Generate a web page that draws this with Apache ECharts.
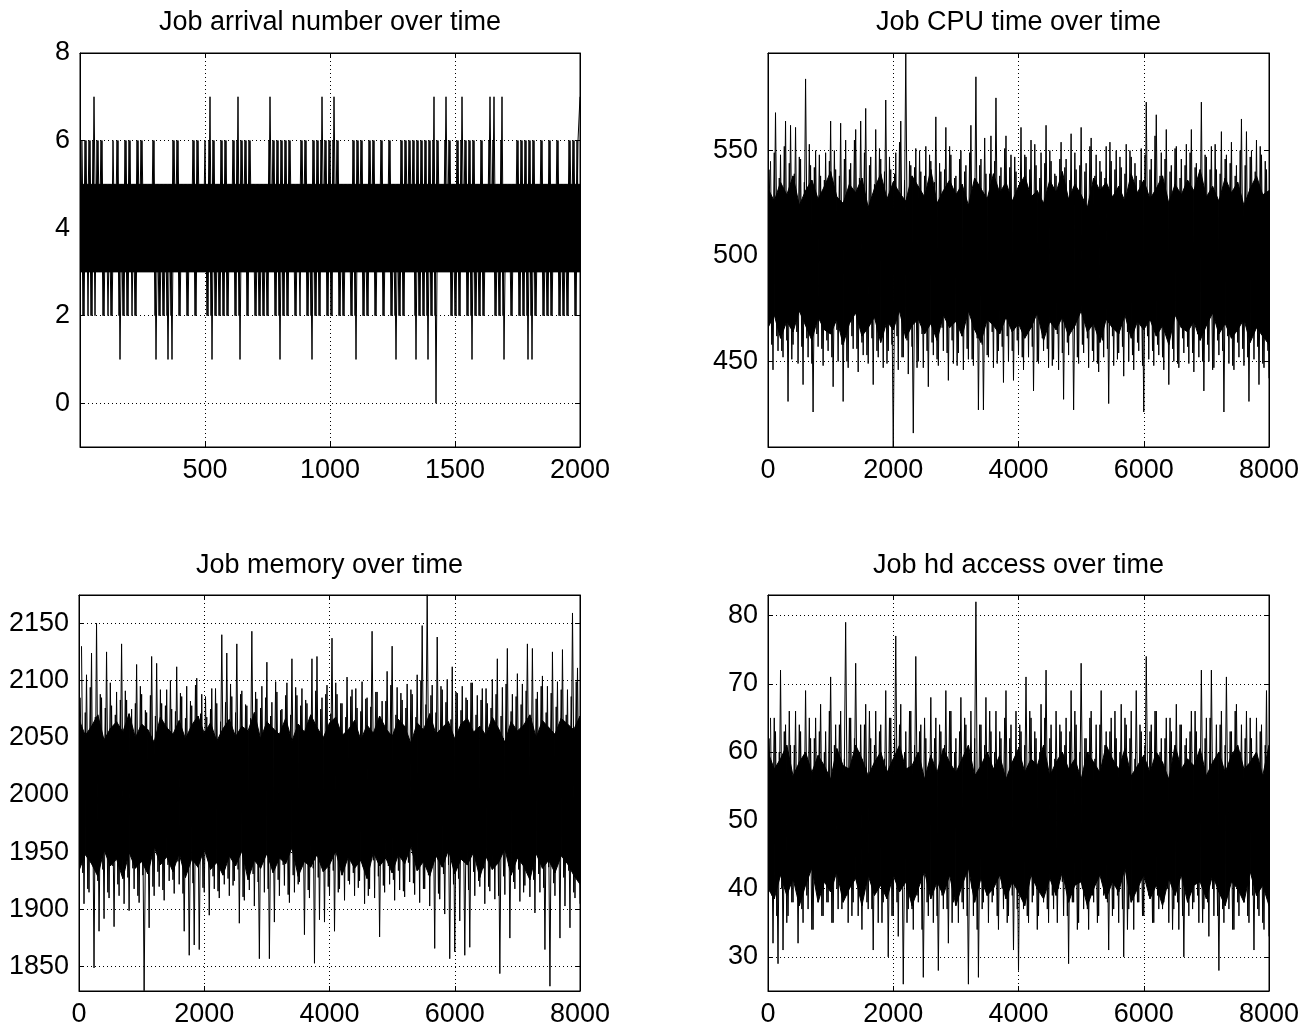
<!DOCTYPE html>
<html><head><meta charset="utf-8">
<script src="https://cdn.jsdelivr.net/npm/echarts@6/dist/echarts.min.js"></script>
<style>html,body{margin:0;padding:0;background:#fff}#c{width:1313px;height:1030px}</style>
</head><body><div id="c"></div><script>
const titles = ['Job arrival number over time', 'Job CPU time over time', 'Job memory over time', 'Job hd access over time'];

// tick labels
const arrivalXTicks = [500, 1000, 1500, 2000];
const arrivalYTicks = [0, 2, 4, 6, 8];
const timeXTicks = [0, 2000, 4000, 6000, 8000];
const cpuYTicks = [450, 500, 550];
const memoryYTicks = [1850, 1900, 1950, 2000, 2050, 2100, 2150];
const hdYTicks = [30, 40, 50, 60, 70, 80];

// job arrival number, read every 8 time steps (x = 8, 16, ... 2000)
const arrivalValues = [
6,2,6,2,6,2,7,3,6,3, 6,2,5,2,5,2,5,3,6,1, 5,2,6,2,6,2,5,2,6,3, 6,3,5,3,5,3,6,1,5,2,
5,2,5,1,5,1,6,3,6,2, 5,3,5,2,5,3,6,2,6,3, 5,3,5,2,7,1,6,2,5,2, 6,2,6,2,5,3,6,2,7,1,
6,3,6,2,6,3,5,2,5,2, 5,2,5,2,7,3,6,2,6,1, 6,2,6,2,6,3,5,2,5,2, 6,3,6,2,5,1,6,2,6,2,
7,3,6,2,6,2,7,3,6,2, 5,2,5,3,5,2,6,1,6,3, 6,2,5,2,6,3,6,2,5,3, 6,2,5,3,6,2,5,1,5,2,
6,2,6,3,6,3,6,1,6,2, 6,2,6,1,6,2,7,0,6,3, 5,3,7,3,6,2,5,2,6,2, 7,3,6,2,6,1,6,2,5,2,
6,2,5,3,7,3,7,2,5,2, 7,1,5,3,5,2,5,3,6,2, 6,2,6,1,6,1,6,2,5,3, 6,2,5,2,6,2,5,3,6,2,
5,2,5,2,6,3,6,2,6,7];
// in-between readings (x = 4, 12, ... 1996)
const arrivalValues2 = [
6,2,6,3,6,2,6,2,6,3, 6,2,5,3,5,2,6,3,6,2, 5,2,6,2,6,3,5,2,6,3, 6,3,5,3,5,3,6,2,5,2,
5,2,5,2,5,2,6,3,6,2, 5,3,5,2,5,3,6,2,6,3, 5,3,6,2,6,2,6,2,5,2, 6,2,6,2,5,3,6,2,6,2,
6,3,6,2,6,3,5,2,5,2, 5,2,5,2,6,3,6,2,6,2, 6,2,6,2,6,3,5,2,5,3, 6,3,6,2,5,2,6,2,6,2,
6,3,6,2,6,2,6,3,6,2, 5,2,5,3,5,2,6,2,6,3, 6,2,5,2,6,3,6,2,5,3, 6,2,5,3,6,2,5,2,5,2,
6,2,6,3,6,3,6,2,6,2, 6,2,6,2,6,2,6,2,6,3, 5,3,6,3,6,2,5,2,6,2, 6,3,6,2,6,2,6,2,5,2,
6,2,5,3,6,3,6,2,5,2, 6,2,5,3,5,2,5,3,6,2, 6,2,6,2,6,2,6,2,5,3, 6,2,5,2,6,2,5,3,6,2,
5,2,5,2,6,3,6,2,6,3];
const arrivalCoreX = [1, 2000];
const arrivalCoreTop = [5, 5];
const arrivalCoreBottom = [3, 3];

// CPU time, read every 40 time steps (x = 40 ... 8000)
const cpuValues = [
545,446,568,455,548,452,564,431,562,458, 561,449,546,439,584,452,543,426,550,457,
538,448,549,455,564,438,541,450,563,431, 555,447,544,456,560,445,564,453,570,449,
547,439,560,452,546,447,574,455,541,409, 549,446,564,452,596,444,543,416,551,450,
540,447,552,438,545,453,566,448,540,455, 561,441,548,449,538,454,550,446,543,451,
562,448,585,427,546,427,539,452,557,447, 575,455,542,440,557,450,548,441,540,453,
561,446,547,452,555,436,543,449,549,455, 562,447,545,451,538,446,554,432,546,453,
558,427,541,449,561,454,544,447,556,450, 548,445,540,452,552,430,545,448,550,454,
542,443,553,450,547,446,538,455,551,426, 573,451,546,448,567,453,549,446,560,439,
543,450,552,447,546,454,553,449,560,445, 544,452,573,436,547,450,552,447,541,453,
559,426,548,449,554,446,543,452,565,448, 559,431,550,451,555,439,548,447,541,442];
// in-between readings (x = 20, 60, ... 7980)
const cpuValues2 = [
541,458,549,462,537,455,552,460,544,451, 539,464,547,457,535,461,553,449,542,463,
548,456,536,460,545,452,550,465,538,458, 546,450,541,462,555,456,537,459,549,453,
543,461,534,455,551,464,540,449,547,458, 539,462,554,452,536,460,545,457,542,447,
550,463,538,455,548,459,535,451,544,466, 541,454,552,460,537,448,546,462,540,456,
549,451,536,461,543,458,556,453,539,464, 545,449,538,457,551,462,542,455,547,460,
535,452,548,463,541,457,553,450,537,461, 544,456,550,448,539,463,546,454,542,459,
536,465,549,452,543,458,540,461,552,455, 538,449,545,460,537,456,554,462,541,451,
547,457,539,464,550,453,544,459,536,448, 548,462,541,455,557,458,538,452,546,463,
540,456,551,449,537,461,543,457,549,454, 542,463,535,450,548,458,541,446,553,460,
539,455,546,462,544,448,538,459,550,456, 543,452,547,465,540,457,552,449,545,455];
// edges of the solid dense band, read every 100 time steps (x = 0 ... 8000)
const cpuCoreTop = [
532,526,535,529,538,524,531,536,527,533, 540,528,525,534,530,537,523,532,539,527,
535,530,526,538,533,528,541,525,531,536, 529,534,524,537,532,527,539,530,535,526,
533,538,528,531,525,536,530,540,527,534, 529,523,537,531,535,528,533,526,539,530,
536,527,532,538,525,534,529,536,531,541, 528,533,526,537,530,535,524,532,538,529, 531];
const cpuCoreBottom = [
466,472,461,469,464,474,467,460,471,465, 463,470,458,468,473,462,466,471,459,469,
465,474,461,467,470,463,468,460,472,466, 469,462,474,465,459,470,467,463,471,464,
468,461,466,473,460,469,465,471,462,467, 474,464,468,459,470,466,463,472,461,469,
465,470,462,467,458,472,466,464,469,460, 467,473,463,468,461,465,470,459,466,462, 458];

// memory
const memoryValues = [
2130,1905,2105,1915,2124,1849,2150,1881,2085,1892, 2125,1910,2078,1885,2090,1912,2132,1905,2083,1899,
2075,1918,2114,1906,2088,1829,2072,1884,2121,1912, 2115,1920,2080,1908,2092,1925,2075,1914,2112,1922,
2086,1881,2095,1860,2078,1869,2102,1865,2088,1915, 2068,1895,2093,1918,2080,1910,2140,1922,2124,1912,
2086,1925,2132,1888,2091,1908,2078,1917,2143,1903, 2084,1857,2095,1915,2116,1857,2081,1889,2090,1912,
2075,1921,2098,1906,2119,1915,2087,1924,2093,1878, 2080,1910,2119,1853,2121,1891,2085,1889,2096,1912,
2137,1881,2088,1918,2080,1908,2103,1922,2092,1912, 2076,1925,2099,1905,2085,1918,2143,1910,2090,1876,
2082,1915,2108,1922,2130,1908,2094,1917,2083,1911, 2097,1924,2088,1913,2105,1906,2148,1918,2175,1903,
2096,1866,2138,1909,2092,1896,2101,1857,2112,1863, 2089,1890,2095,1860,2083,1867,2098,1912,2087,1920,
2093,1905,2080,1916,2101,1909,2119,1844,2094,1913, 2128,1875,2088,1918,2106,1907,2097,1921,2132,1911,
2128,1897,2090,1915,2104,1865,2095,1833,2125,1912, 2099,1875,2127,1903,2092,1884,2159,1910,2111,1905];
const memoryValues2 = [
2085,1932,2072,1918,2094,1940,2068,1925,2088,1935, 2076,1915,2098,1938,2070,1922,2083,1944,2091,1928,
2066,1936,2080,1912,2095,1930,2074,1941,2087,1920, 2069,1933,2092,1917,2078,1939,2100,1926,2073,1942,
2089,1914,2067,1934,2082,1923,2096,1937,2071,1919, 2086,1943,2075,1929,2093,1916,2064,1938,2081,1927,
2097,1921,2072,1935,2088,1911,2079,1940,2067,1931, 2090,1924,2076,1945,2085,1918,2069,1933,2099,1926,
2074,1939,2087,1913,2070,1930,2094,1922,2078,1941, 2083,1917,2066,1936,2091,1928,2075,1944,2088,1920,
2071,1934,2098,1915,2080,1940,2068,1925,2086,1932, 2093,1919,2073,1937,2084,1912,2077,1943,2090,1929,
2065,1921,2082,1938,2096,1926,2070,1934,2089,1916, 2076,1941,2092,1923,2068,1935,2100,1918,2079,1930,
2087,1944,2072,1914,2095,1931,2081,1939,2066,1922, 2090,1927,2074,1942,2085,1917,2098,1933,2070,1925,
2083,1936,2093,1920,2076,1943,2088,1912,2069,1929, 2097,1938,2073,1924,2086,1935,2079,1915,2091,1940,
2067,1926,2084,1931,2095,1919,2072,1937,2089,1923, 2077,1942,2092,1928,2070,1934,2086,1915,2099,1930];
const memoryCoreTop = [
2066,2052,2060,2070,2048,2058,2064,2055,2071,2050, 2062,2057,2046,2068,2059,2053,2065,2049,2061,2069,
2054,2063,2047,2058,2066,2051,2060,2056,2072,2049, 2064,2058,2053,2067,2047,2062,2055,2070,2059,2050,
2063,2068,2052,2057,2065,2048,2061,2054,2069,2058, 2051,2066,2060,2045,2063,2057,2071,2053,2059,2064,
2049,2062,2067,2055,2060,2052,2068,2058,2046,2064, 2056,2061,2070,2050,2065,2059,2053,2067,2062,2057, 2069];
const memoryCoreBottom = [
1934,1948,1940,1929,1952,1938,1944,1927,1950,1936, 1942,1931,1955,1939,1946,1933,1949,1928,1944,1937,
1953,1935,1941,1930,1947,1938,1951,1926,1943,1936, 1949,1932,1945,1940,1954,1929,1942,1937,1948,1933,
1939,1951,1930,1946,1936,1943,1927,1950,1938,1945, 1932,1948,1940,1955,1934,1942,1929,1947,1937,1952,
1931,1944,1939,1950,1928,1946,1935,1941,1953,1930, 1945,1938,1926,1949,1936,1943,1932,1947,1940,1930, 1922];

// hd access
const hdValues = [
65,32,63,29,72,31,64,36,61,38, 66,32,63,35,69,37,62,34,65,39, 67,36,63,38,71,35,64,37,66,39,
79,35,65,38,73,36,64,39,67,37, 62,31,66,35,64,38,69,30,65,36, 77,33,67,26,63,37,66,34,74,38,
64,27,62,36,68,35,65,28,63,37, 69,32,66,38,62,35,68,37,64,26, 66,36,82,27,64,38,68,35,63,39,
66,34,62,37,69,36,64,31,66,28, 63,37,71,35,65,39,62,36,67,38, 72,35,64,37,66,40,63,36,65,29,
69,38,64,35,73,37,62,34,66,38, 64,36,69,39,63,31,65,37,62,35, 67,30,64,37,66,34,69,38,63,36,
74,39,64,35,66,37,62,38,65,35, 63,37,67,34,64,30,62,36,66,38, 63,35,72,37,65,33,72,36,64,28,
66,35,71,37,63,34,67,36,64,38, 66,35,62,31,65,36,64,34,69,33];
const hdValues2 = [
62,39,65,36,60,40,63,35,66,38, 61,41,64,37,59,39,65,34,62,40, 63,36,60,38,66,35,61,40,64,37,
59,39,65,36,62,41,60,34,64,38, 66,37,61,40,63,35,59,39,65,36, 62,38,64,41,60,35,66,37,61,39,
63,34,65,38,59,40,62,36,64,39, 61,37,66,35,60,41,63,38,65,36, 59,40,62,34,64,37,61,39,66,38,
60,36,63,40,65,35,62,39,59,37, 64,41,61,36,66,38,63,34,60,40, 65,37,62,39,59,35,64,41,61,36,
63,38,66,34,60,40,62,37,65,39, 59,35,64,41,61,38,63,36,66,39, 60,37,65,34,62,40,59,38,64,36,
61,41,63,35,66,39,60,37,62,40, 65,34,59,38,64,36,61,41,63,37, 66,39,60,35,62,38,65,40,59,36,
64,37,61,39,63,34,66,38,60,41, 62,36,65,39,59,37,63,35,61,40];
const hdCoreTop = [
60,57.5,59,61,56.5,58.5,60,57,59.5,58, 56,60.5,58,57.5,61,59,56.5,58.5,60,57,
59,61,57.5,58,60,56,59.5,57,60.5,58.5, 57,59,61,56.5,58,60,57.5,59.5,56,58.5,
60.5,57,59,58,61,56.5,58.5,60,57.5,59, 56,60,58.5,57,61,59,57.5,60.5,56.5,58,
59.5,57,60,58.5,56,61,57.5,59,58,60.5, 56.5,58.5,60,57,59.5,61,57.5,58.5,60,56.5, 61];
const hdCoreBottom = [
40,38.5,42,39,41.5,37.5,40.5,43,38,41, 39.5,42.5,38,40,41.5,37.5,42,39,40.5,38.5,
42,39.5,41,37.5,40,42.5,38.5,41,39,42, 37.5,40.5,43,38,41.5,39,40,42,38.5,41,
39.5,37.5,42,40,38.5,41.5,39,42.5,38,40.5, 41,37.5,40,42,38.5,41,39.5,43,38,40,
42,38.5,40.5,37.5,41.5,39,42,38,40.5,41, 38.5,42,39.5,37.5,41,40,38,42.5,39,40.5, 37.5];

const coreStep = 100;
const coreX = cpuCoreTop.map((v, i) => i * coreStep);

const FONT = "'Liberation Sans', Arial, Helvetica, sans-serif";

const panels = [
  {title: titles[0], grid: {left: 80, top: 53, width: 500, height: 394}, titleY: 23,
   x: {min: 0, max: 2000, step: 500, ticks: arrivalXTicks}, y: {min: -1, max: 8, step: 2, ticks: arrivalYTicks},
   values: arrivalValues, values2: arrivalValues2, sampleStep: 8,
   coreX: arrivalCoreX, coreTop: arrivalCoreTop, coreBottom: arrivalCoreBottom},
  {title: titles[1], grid: {left: 768, top: 53, width: 501, height: 394}, titleY: 23,
   x: {min: 0, max: 8000, step: 2000, ticks: timeXTicks}, y: {min: 409.4, max: 596.3, step: 50, ticks: cpuYTicks},
   values: cpuValues, values2: cpuValues2, sampleStep: 40, coreX: coreX, coreTop: cpuCoreTop, coreBottom: cpuCoreBottom},
  {title: titles[2], grid: {left: 79, top: 595, width: 501, height: 396}, titleY: 566,
   x: {min: 0, max: 8000, step: 2000, ticks: timeXTicks}, y: {min: 1828.8, max: 2174.7, step: 50, ticks: memoryYTicks},
   values: memoryValues, values2: memoryValues2, sampleStep: 40, coreX: coreX, coreTop: memoryCoreTop, coreBottom: memoryCoreBottom},
  {title: titles[3], grid: {left: 768, top: 595, width: 501, height: 396}, titleY: 566,
   x: {min: 0, max: 8000, step: 2000, ticks: timeXTicks}, y: {min: 25, max: 83, step: 10, ticks: hdYTicks},
   values: hdValues, values2: hdValues2, sampleStep: 40, coreX: coreX, coreTop: hdCoreTop, coreBottom: hdCoreBottom}
];

const option = {animation: false, backgroundColor: '#fff', grid: [], xAxis: [], yAxis: [], series: [], graphic: []};
const fmt = ticks => v => ticks.some(t => Math.abs(t - v) < 1e-6) ? String(Math.round(v)) : '';
const gridLine = {show: true, lineStyle: {color: '#000', width: 1, type: [1, 3]}};

panels.forEach((p, k) => {
  option.grid.push(Object.assign({}, p.grid, {show: true, borderColor: '#000', borderWidth: 1, backgroundColor: 'transparent'}));
  const base = a => ({type: 'value', gridIndex: k, min: a.min, max: a.max, minInterval: a.step, maxInterval: a.step,
    axisLine: {show: true, onZero: false, lineStyle: {color: '#000', width: 1}},
    axisTick: {show: true, inside: true, length: 5, lineStyle: {color: '#000', width: 1}}});
  const label = a => ({show: true, color: '#000', fontSize: 27, fontFamily: FONT, margin: 10, formatter: fmt(a.ticks)});
  option.xAxis.push(Object.assign(base(p.x), {position: 'bottom', axisLabel: label(p.x), splitLine: gridLine}));
  option.xAxis.push(Object.assign(base(p.x), {position: 'top', axisLabel: {show: false}, splitLine: {show: false}}));
  option.yAxis.push(Object.assign(base(p.y), {position: 'left', axisLabel: label(p.y), splitLine: gridLine}));
  option.yAxis.push(Object.assign(base(p.y), {position: 'right', axisLabel: {show: false}, splitLine: {show: false}}));
  const ax = {xAxisIndex: 2 * k, yAxisIndex: 2 * k};
  // dense core band: one quad between consecutive readings of the band edges
  option.series.push(Object.assign({type: 'custom', silent: true, z: 2, clip: true,
    data: p.coreX.map((x, i) => [x, p.coreBottom[i], p.coreTop[i]]),
    encode: {x: 0, y: [1, 2]},
    renderItem: (params, api) => {
      const i = params.dataIndex;
      if (i === 0) return null;
      const pts = [
        api.coord([p.coreX[i - 1], p.coreTop[i - 1]]), api.coord([p.coreX[i], p.coreTop[i]]),
        api.coord([p.coreX[i], p.coreBottom[i]]), api.coord([p.coreX[i - 1], p.coreBottom[i - 1]])];
      return {type: 'polygon', shape: {points: pts}, style: {fill: '#000', stroke: '#000', lineWidth: 1}};
    }}, ax));
  option.series.push(Object.assign({type: 'line', symbol: 'none', silent: true, z: 3, sampling: null,
    lineStyle: {color: '#000', width: 1},
    data: p.values2.map((v, i) => [p.sampleStep * i + p.sampleStep / 2, v])}, ax));
  option.series.push(Object.assign({type: 'line', symbol: 'none', silent: true, z: 4, sampling: null,
    lineStyle: {color: '#000', width: 1},
    data: p.values.map((v, i) => [p.sampleStep * (i + 1), v])}, ax));
  option.graphic.push({type: 'text', x: p.grid.left + p.grid.width / 2, y: p.titleY, z: 10,
    style: {text: p.title, font: '27px ' + FONT, fill: '#000', textAlign: 'center', textVerticalAlign: 'middle'}});
});

const chart = echarts.init(document.getElementById('c'), null, {renderer: 'canvas'});
chart.setOption(option);
</script></body></html>
